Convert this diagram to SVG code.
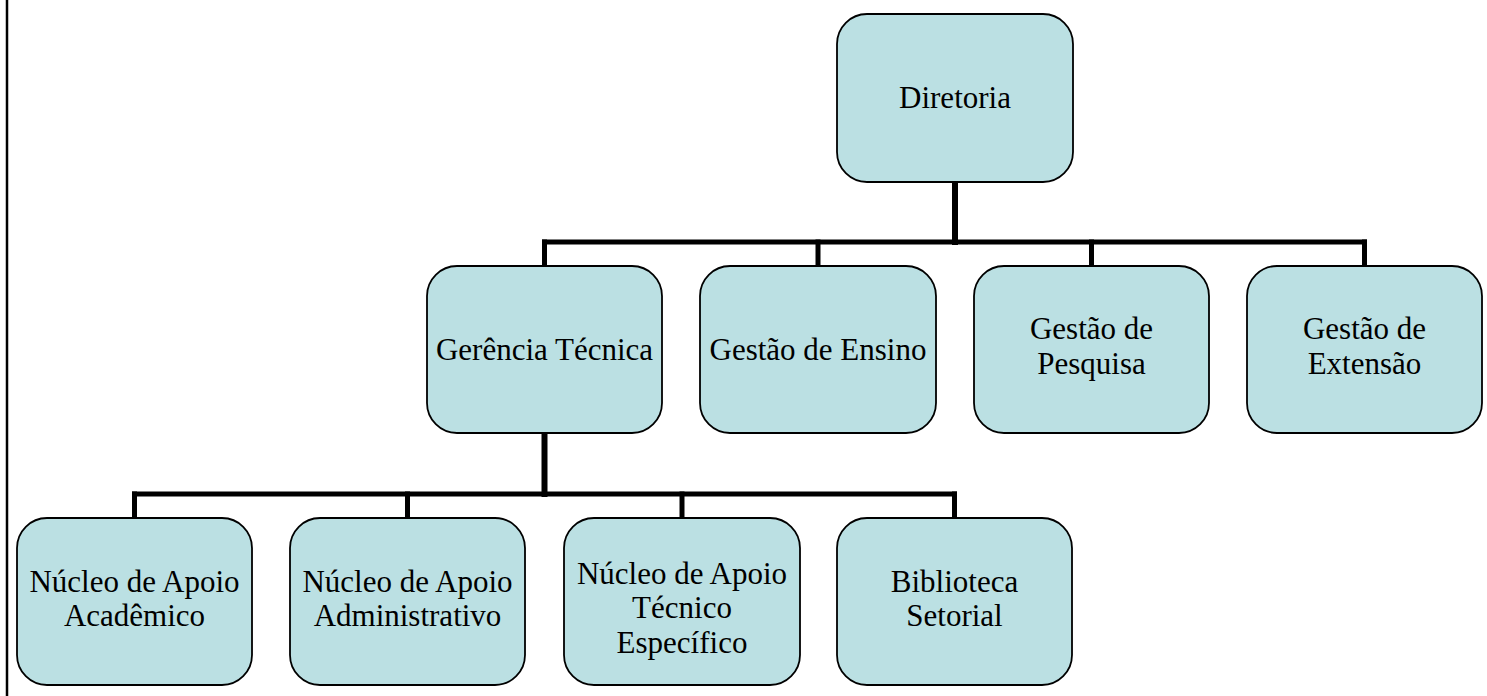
<svg xmlns="http://www.w3.org/2000/svg" width="1487" height="696" viewBox="0 0 1487 696">
<style>
.box{fill:#BBE0E3;stroke:#000;stroke-width:1.8}
.t{font-family:"Liberation Serif","Times New Roman",serif;font-size:31px;fill:#000;text-anchor:middle}
.c{stroke:#000;fill:none;stroke-linecap:square}
</style>
<rect x="0" y="0" width="1487" height="696" fill="#fff"/>
<line x1="7" y1="0" x2="7" y2="696" stroke="#000" stroke-width="2.5"/>
<g id="connectors">
<line class="c" x1="955" y1="183" x2="955" y2="242" stroke-width="6"/>
<line class="c" x1="544.5" y1="242" x2="1364.5" y2="242" stroke-width="5"/>
<line class="c" x1="544.5" y1="242" x2="544.5" y2="266" stroke-width="5"/>
<line class="c" x1="818" y1="242" x2="818" y2="266" stroke-width="5"/>
<line class="c" x1="1091.5" y1="242" x2="1091.5" y2="266" stroke-width="5"/>
<line class="c" x1="1364.5" y1="242" x2="1364.5" y2="266" stroke-width="5"/>
<line class="c" x1="544.5" y1="434" x2="544.5" y2="494" stroke-width="6"/>
<line class="c" x1="134.5" y1="494" x2="954.5" y2="494" stroke-width="5"/>
<line class="c" x1="134.5" y1="494" x2="134.5" y2="518" stroke-width="5"/>
<line class="c" x1="407.5" y1="494" x2="407.5" y2="518" stroke-width="5"/>
<line class="c" x1="682" y1="494" x2="682" y2="518" stroke-width="5"/>
<line class="c" x1="954.5" y1="494" x2="954.5" y2="518" stroke-width="5"/>
</g>
<g id="diretoria">
<rect class="box" x="837" y="14" width="236" height="168" rx="30"/>
<text class="t" x="955" y="108">Diretoria</text>
</g>
<g id="gerencia-tecnica">
<rect class="box" x="427" y="266" width="235" height="167" rx="30"/>
<text class="t" x="544.5" y="360">Gerência Técnica</text>
</g>
<g id="gestao-ensino">
<rect class="box" x="700" y="266" width="236" height="167" rx="30"/>
<text class="t" x="818" y="360">Gestão de Ensino</text>
</g>
<g id="gestao-pesquisa">
<rect class="box" x="974" y="266" width="235" height="167" rx="30"/>
<text class="t" x="1091.5" y="339">Gestão de</text>
<text class="t" x="1091.5" y="374">Pesquisa</text>
</g>
<g id="gestao-extensao">
<rect class="box" x="1247" y="266" width="235" height="167" rx="30"/>
<text class="t" x="1364.5" y="339">Gestão de</text>
<text class="t" x="1364.5" y="374">Extensão</text>
</g>
<g id="nucleo-academico">
<rect class="box" x="17" y="518" width="235" height="167" rx="30"/>
<text class="t" x="134.5" y="592">Núcleo de Apoio</text>
<text class="t" x="134.5" y="626">Acadêmico</text>
</g>
<g id="nucleo-administrativo">
<rect class="box" x="290" y="518" width="235" height="167" rx="30"/>
<text class="t" x="407.5" y="592">Núcleo de Apoio</text>
<text class="t" x="407.5" y="626">Administrativo</text>
</g>
<g id="nucleo-tecnico">
<rect class="box" x="564" y="518" width="236" height="167" rx="30"/>
<text class="t" x="682" y="584">Núcleo de Apoio</text>
<text class="t" x="682" y="618">Técnico</text>
<text class="t" x="682" y="653">Específico</text>
</g>
<g id="biblioteca">
<rect class="box" x="837" y="518" width="235" height="167" rx="30"/>
<text class="t" x="954.5" y="592">Biblioteca</text>
<text class="t" x="954.5" y="626">Setorial</text>
</g>
</svg>
